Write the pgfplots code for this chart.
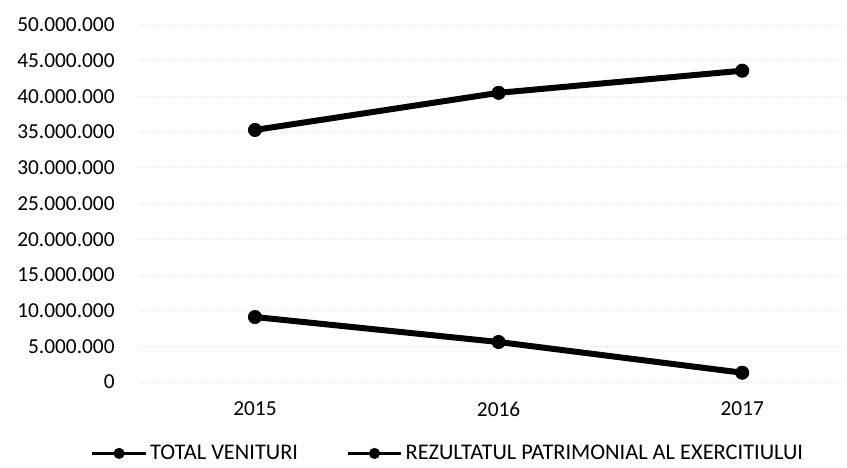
\documentclass[border=0pt]{standalone}
\usepackage{pgfplots}
\pgfplotsset{compat=1.18}
\usepackage{fontspec}
\setmainfont{Carlito}
\begin{document}
\begin{tikzpicture}[x=1pt,y=1pt]
\useasboundingbox (-105,-64.5) rectangle (530.25,286.5);
\begin{axis}[
  at={(0,0)}, anchor=south west,
  scale only axis, width=530.25pt, height=267.75pt,
  xmin=-0.472, xmax=2.43,
  ymin=0, ymax=50000000,
  xtick={0,1,2}, xticklabels={2015,2016,2017},
  ytick={0,5000000,...,50000000},
  scaled y ticks=false,
  /pgf/number format/fixed,
  /pgf/number format/1000 sep={.},
  /pgf/number format/assume math mode=true,
  tick label style={font=\fontsize{16}{18}\selectfont, black},
  major tick length=0pt,
  axis line style={draw=none},
  ymajorgrids, grid style={gray!25, dotted, line width=0.6pt},
  yticklabel style={xshift=-15.5pt},
  xticklabel style={yshift=-11.5pt},
  legend style={draw=none, fill=none, at={(0.436,-0.2)}, anchor=center, font=\fontsize{16.8}{19}\selectfont,
    inner sep=1pt,
    /tikz/every even column/.append style={column sep=34pt}},
  legend image code/.code={\draw[mark repeat=2, mark phase=2, #1] plot coordinates {(0pt,0pt) (20pt,0pt) (40pt,0pt)};},
  legend image post style={line width=2.6pt, mark size=4pt, mark options={solid, line width=0.3pt}},
  legend columns=2,
  legend cell align=left,
]
\addplot[black, line width=4.5pt, mark=*, mark size=5pt, mark options={solid, line width=0.5pt}] coordinates {(0,35300000) (1,40500000) (2,43600000)};
\addlegendentry{TOTAL VENITURI}
\addplot[black, line width=4.5pt, mark=*, mark size=5pt, mark options={solid, line width=0.5pt}] coordinates {(0,9100000) (1,5600000) (2,1300000)};
\addlegendentry{REZULTATUL PATRIMONIAL AL EXERCITIULUI}
\end{axis}
\end{tikzpicture}
\end{document}
